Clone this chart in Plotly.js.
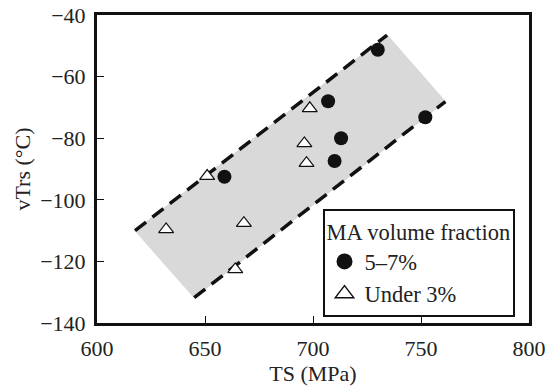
<!DOCTYPE html>
<html>
<head>
<meta charset="utf-8">
<script src="https://cdn.plot.ly/plotly-3.0.1.min.js"></script>
<style>html,body{margin:0;padding:0;background:#fff;}#chart{width:547px;height:392px;}</style>
</head>
<body>
<div id="chart"></div>
<script>
// Data
const circleTS = [659, 707, 713, 710, 730, 752];
const circleVT = [-92.5, -68, -80, -87.4, -51.3, -73.2];
const triTS = [632, 651, 664, 668, 696, 697, 698.5];
const triVT = [-109.6, -92.3, -122.6, -107.6, -81.7, -88.1, -70.3];
const bandUpperTS = [617.6, 734.3];
const bandUpperVT = [-110, -46.5];
const bandLowerTS = [645, 761.3];
const bandLowerVT = [-131.8, -68.1];
const xTicks = [600, 650, 700, 750, 800];
const yTicks = [-140, -120, -100, -80, -60, -40];
const seriesNames = ['5–7%', 'Under 3%'];

const FONT = '"Liberation Serif", "Times New Roman", serif';
const FS = 22;
const LFS = 22.5;

const traces = [
  {
    x: bandUpperTS.concat(bandLowerTS.slice().reverse()).concat([bandUpperTS[0]]),
    y: bandUpperVT.concat(bandLowerVT.slice().reverse()).concat([bandUpperVT[0]]),
    mode: 'lines', fill: 'toself', fillcolor: '#d9d9d9',
    line: {width: 0.6, color: '#c8c8c8'}, showlegend: false, hoverinfo: 'skip'
  },
  {
    x: bandUpperTS, y: bandUpperVT, mode: 'lines',
    line: {color: '#111', width: 3.5, dash: '14px,8px'}, showlegend: false
  },
  {
    x: bandLowerTS, y: bandLowerVT, mode: 'lines',
    line: {color: '#111', width: 3.5, dash: '14px,8px'}, showlegend: false
  },
  {
    x: circleTS, y: circleVT, mode: 'markers', name: seriesNames[0], showlegend: false,
    marker: {symbol: 'circle', size: 14, color: '#111', line: {width: 0}}
  },
  {
    x: triTS, y: triVT, mode: 'markers', name: seriesNames[1], showlegend: false,
    marker: {symbol: 'triangle-up', size: 13, color: '#fff', line: {width: 1.2, color: '#111'}}
  },
  // legend entries (larger symbols, as in the reference legend)
  {
    x: [null], y: [null], mode: 'markers', name: seriesNames[0],
    marker: {symbol: 'circle', size: 18, color: '#111', line: {width: 0}}
  },
  {
    x: [null], y: [null], mode: 'markers', name: seriesNames[1],
    marker: {symbol: 'triangle-up', size: 18, color: '#fff', line: {width: 1.5, color: '#111'}}
  }
];

const layout = {
  width: 547, height: 392,
  margin: {l: 97, r: 18, t: 15, b: 69},
  paper_bgcolor: '#fff', plot_bgcolor: '#fff',
  font: {family: FONT, size: FS, color: '#222'},
  showlegend: true,
  legend: {
    x: 0.522, y: 0.37, xanchor: 'left', yanchor: 'top',
    bordercolor: '#111', borderwidth: 2, bgcolor: '#fff',
    title: {text: 'MA volume fraction', font: {family: FONT, size: LFS}},
    font: {family: FONT, size: LFS},
    itemwidth: 30, tracegroupgap: 0
  },
  xaxis: {
    range: [600, 800], tickvals: xTicks, ticktext: xTicks.map(String),
    showgrid: false, zeroline: false,
    showline: true, linewidth: 3, linecolor: '#111', mirror: true,
    ticks: 'inside', ticklen: 7, tickwidth: 1, tickcolor: '#111',
    tickfont: {family: FONT, size: FS}, ticklabelstandoff: 4,
    title: {text: 'TS (MPa)', font: {family: FONT, size: FS}, standoff: 4}
  },
  yaxis: {
    range: [-140, -40], tickvals: yTicks,
    showgrid: false, zeroline: false,
    showline: true, linewidth: 3, linecolor: '#111', mirror: true,
    ticks: 'inside', ticklen: 7, tickwidth: 1, tickcolor: '#111',
    tickfont: {family: FONT, size: FS}, ticklabelstandoff: 4,
    title: {text: 'vTrs (°C)', font: {family: FONT, size: FS}, standoff: 4}
  }
};

Plotly.newPlot('chart', traces, layout, {displayModeBar: false, staticPlot: true});
</script>
</body>
</html>
